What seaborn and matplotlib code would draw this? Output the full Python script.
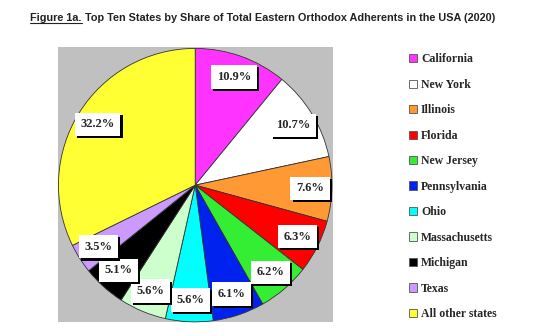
import matplotlib
matplotlib.use("Agg")
import matplotlib.pyplot as plt
import matplotlib.patheffects as pe
from matplotlib.patches import Patch
import numpy as np
import seaborn as sns

states = ["California", "New York", "Illinois", "Florida", "New Jersey",
          "Pennsylvania", "Ohio", "Massachusetts", "Michigan", "Texas",
          "All other states"]
shares = [10.9, 10.7, 7.6, 6.3, 6.2, 6.1, 5.6, 5.6, 5.1, 3.5, 32.2]
colors = ["#FF33FF", "#FFFFFF", "#FF9933", "#FF0000", "#33EE33", "#0022EE",
          "#00FFFF", "#CCFFCC", "#000000", "#CC99FF", "#FFFF33"]

sns.set_style("white")

fig = plt.figure(figsize=(5.4, 3.36), dpi=100)
ax = fig.add_axes([0.106, 0.042, 0.511, 0.818])
fig.patch.set_facecolor("white")

wedges, texts = ax.pie(
    shares, colors=colors, startangle=90, counterclock=False,
    radius=1.0, wedgeprops=dict(edgecolor="#333333", linewidth=0.6),
)
# grey plot area behind the pie
ax.set_frame_on(True)
ax.set_facecolor("#C0C0C0")
ax.set_xlim(-1.005, 1.005)
ax.set_ylim(-1.0, 1.01)
ax.set_aspect("equal")
ax.set_xticks([])
ax.set_yticks([])
for s in ax.spines.values():
    s.set_visible(False)

# percentage labels in white boxes with a black drop shadow
total = sum(shares)
angle = 90.0
for v in shares:
    span = 360.0 * v / total
    mid = np.deg2rad(angle - span / 2)
    angle -= span
    r = 0.84
    t = ax.text(r * np.cos(mid), r * np.sin(mid), f"{v}%",
                ha="center", va="center", fontsize=9, fontweight="bold",
                family="Liberation Serif",
                bbox=dict(boxstyle="square,pad=0.45", facecolor="white",
                          edgecolor="none"))
    t.get_bbox_patch().set_path_effects([
        pe.SimplePatchShadow(offset=(1.5, -1.5), shadow_rgbFace="black", alpha=1.0),
        pe.Normal()])

handles = [Patch(facecolor=c, edgecolor="#555555", linewidth=0.6) for c in colors]
fig.legend(handles, states, loc="upper left", bbox_to_anchor=(0.748, 0.855),
           frameon=False, prop=dict(family="Liberation Serif", weight="bold", size=8.5),
           handlelength=0.7, handleheight=0.7, handletextpad=0.35,
           labelspacing=1.14, borderaxespad=0)

# title with underlined figure number
fig.canvas.draw()
r = fig.canvas.get_renderer()
ty = 0.9375
t1 = fig.text(0, ty, "Figure 1a.", fontsize=7.8, fontweight="bold",
              family="Liberation Sans", color="#222222", va="baseline")
t2 = fig.text(0, ty, " Top Ten States by Share of Total Eastern Orthodox Adherents in the USA (2020)",
              fontsize=7.8, fontweight="bold", family="Liberation Sans",
              color="#222222", va="baseline")
w1 = t1.get_window_extent(r).width / fig.bbox.width
w2 = t2.get_window_extent(r).width / fig.bbox.width
x0 = 0.5 - (w1 + w2) / 2 - 0.014
t1.set_x(x0)
t2.set_x(x0 + w1)
fig.add_artist(plt.Line2D([x0, x0 + w1], [ty - 0.007, ty - 0.007], color="#222222",
                          linewidth=0.8, transform=fig.transFigure))

fig.savefig("out.png", dpi=100)
